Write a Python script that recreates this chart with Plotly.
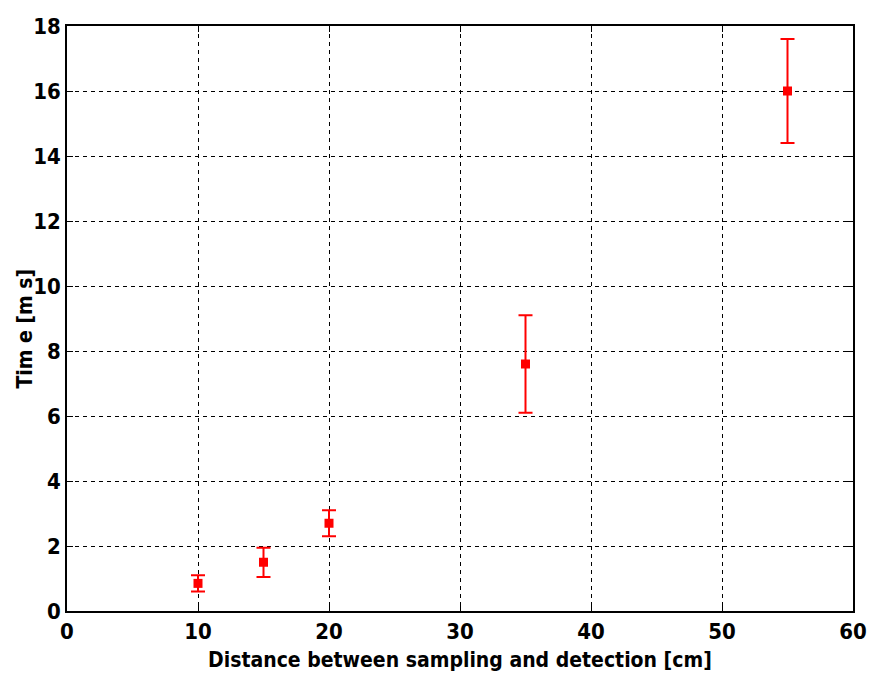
import plotly.graph_objects as go

# Transit time versus sampling-to-detection distance
distance_cm = [10, 15, 20, 35, 55]
time_ms = [0.85, 1.5, 2.7, 7.6, 16.0]
time_err_ms = [0.25, 0.45, 0.4, 1.5, 1.6]

x_ticks = [0, 10, 20, 30, 40, 50, 60]
y_ticks = [0, 2, 4, 6, 8, 10, 12, 14, 16, 18]

font_family = "DejaVu Sans Condensed, Liberation Sans Narrow, Liberation Sans, Arial, sans-serif"

fig = go.Figure()
fig.add_trace(go.Scatter(
    x=distance_cm,
    y=time_ms,
    mode="markers",
    marker=dict(symbol="square", size=9, color="#ff0000"),
    error_y=dict(type="data", array=time_err_ms, visible=True,
                 color="#ff0000", thickness=2, width=7),
    showlegend=False,
))

axis_common = dict(
    showline=True, linecolor="black", linewidth=1.5, mirror="ticks",
    ticks="inside", ticklen=6, tickcolor="black", tickwidth=1,
    showgrid=True, gridcolor="black", griddash="4px,4px", gridwidth=1.3,
    zeroline=False, automargin=False,
    tickfont=dict(family=font_family, size=22, color="black", weight="bold"),
)

fig.update_xaxes(range=[0, 60], tickvals=x_ticks, **axis_common)
fig.update_yaxes(range=[0, 18], tickvals=y_ticks, **axis_common)

title_font = dict(family=font_family, size=21, color="black", weight="bold")
fig.add_annotation(
    text="Distance between sampling and detection [cm]",
    xref="paper", yref="paper", x=0.5, y=-0.083,
    xanchor="center", yanchor="middle", showarrow=False, font=title_font,
)
fig.add_annotation(
    text="Tim e [m s]",
    xref="paper", yref="paper", x=-0.054, y=0.482,
    xanchor="center", yanchor="middle", textangle=-90,
    showarrow=False, font=title_font,
)

fig.update_layout(
    width=869, height=675,
    margin=dict(l=67, r=16, t=26, b=64),
    paper_bgcolor="white", plot_bgcolor="white",
)

fig.write_html("out.html")
